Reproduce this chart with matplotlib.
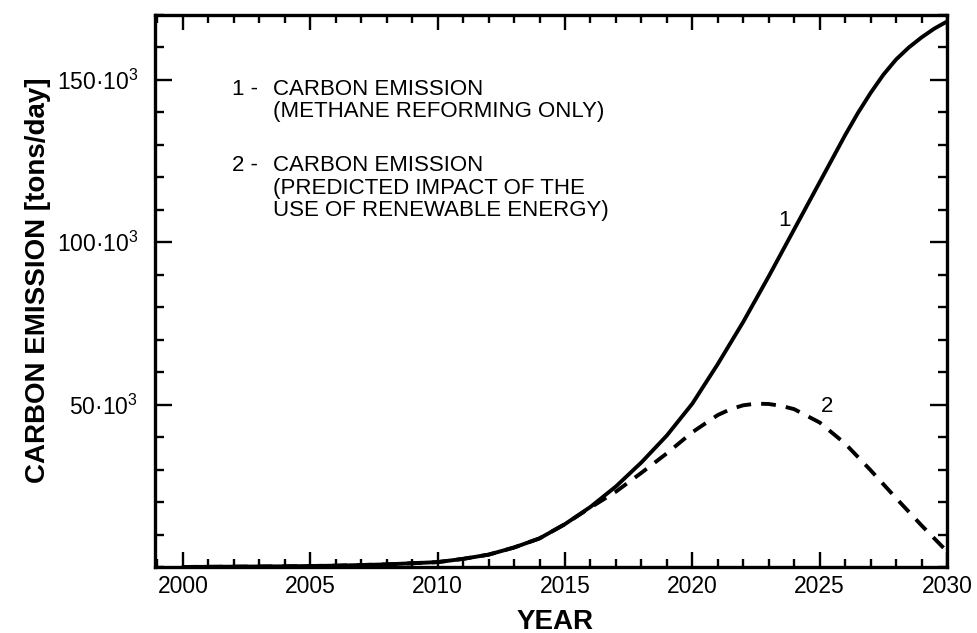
import matplotlib
matplotlib.use("Agg")
import matplotlib.pyplot as plt
from matplotlib.ticker import FixedLocator, FixedFormatter, MultipleLocator

plt.rcParams['font.family'] = ['Liberation Sans', 'DejaVu Sans']
plt.rcParams['mathtext.fontset'] = 'custom'
plt.rcParams['mathtext.rm'] = 'Liberation Sans'
plt.rcParams['mathtext.it'] = 'Liberation Sans:italic'
plt.rcParams['mathtext.bf'] = 'Liberation Sans:bold'

# Curve 1: methane reforming only (tons/day)
years_1 = [2000, 2002, 2004, 2006, 2008, 2010, 2011, 2012, 2013, 2014, 2015,
           2016, 2017, 2018, 2019, 2020, 2021, 2022, 2023, 2024, 2025, 2026,
           2026.5, 2027, 2027.5, 2028, 2028.5, 2029, 2029.5, 2030]
emission_1 = [0, 100, 200, 400, 800, 1500, 2500, 3800, 6000, 8800, 13200,
              18500, 24800, 32200, 40500, 50300, 62500, 75500, 89500, 104000,
              118500, 133000, 139800, 146000, 151600, 156300, 160000, 163100,
              165800, 168000]

# Curve 2: predicted impact of renewable energy use (tons/day)
years_2 = [2000, 2002, 2004, 2006, 2008, 2010, 2011, 2012, 2013, 2014, 2015,
           2016, 2017, 2018, 2019, 2020, 2021, 2021.5, 2022, 2022.5, 2023,
           2023.5, 2024, 2025, 2026, 2027, 2028, 2029, 2030]
emission_2 = [0, 100, 200, 400, 800, 1500, 2500, 3800, 6000, 8800, 13200,
              18300, 23200, 29000, 35000, 41500, 46800, 48600, 49800, 50300,
              50200, 49600, 48600, 44500, 38000, 29800, 21200, 12800, 4800]

xtick_years = [2000, 2005, 2010, 2015, 2020, 2025, 2030]
ytick_values = [50e3, 100e3, 150e3]
ytick_labels = [r'$\mathregular{50·10^{3}}$', r'$\mathregular{100·10^{3}}$',
                r'$\mathregular{150·10^{3}}$']

legend_lines = [
    ("1 -", "CARBON EMISSION"),
    ("", "(METHANE REFORMING ONLY)"),
    ("2 -", "CARBON EMISSION"),
    ("", "(PREDICTED IMPACT OF THE"),
    ("", "USE OF RENEWABLE ENERGY)"),
]

fig = plt.figure(figsize=(9.77, 6.33), dpi=100)
ax = fig.add_axes([0.1586, 0.1043, 0.8107, 0.872])

ax.plot(years_2, emission_2, color='black', lw=2.8, linestyle=(0, (3.8, 2.6)),
        dash_capstyle='butt', zorder=3)
ax.plot(years_1, emission_1, color='black', lw=2.8, solid_joinstyle='round',
        solid_capstyle='round', zorder=4)

ax.set_xlim(1998.9, 2030)
ax.set_ylim(0, 170e3)

ax.xaxis.set_major_locator(FixedLocator(xtick_years))
ax.xaxis.set_minor_locator(MultipleLocator(1))
ax.yaxis.set_major_locator(FixedLocator(ytick_values))
ax.yaxis.set_major_formatter(FixedFormatter(ytick_labels))
ax.yaxis.set_minor_locator(MultipleLocator(10e3))

for s in ax.spines.values():
    s.set_linewidth(2.4)

ax.tick_params(axis='both', which='both', direction='in', top=True, right=True,
               width=1.7, labelsize=16.5, colors='black')
ax.tick_params(axis='x', which='major', length=11, pad=6)
ax.tick_params(axis='x', which='minor', length=5.5)
ax.tick_params(axis='y', which='major', length=12.5, pad=12)
ax.tick_params(axis='y', which='minor', length=6.5)

ax.set_xlabel('YEAR', fontsize=20, fontweight='bold', va='baseline')
ax.xaxis.set_label_coords(0.505, -0.1115)
ax.set_ylabel('CARBON EMISSION [tons/day]', fontsize=20, fontweight='bold',
              va='baseline', ha='center', rotation_mode='anchor')
ax.yaxis.set_label_coords(-0.139, 0.52)

line_y = [0.8696, 0.8297, 0.7319, 0.6902, 0.6504]
for (num, txt), yy in zip(legend_lines, line_y):
    if num:
        ax.text(0.0972, yy, num, transform=ax.transAxes, fontsize=16,
                va='center_baseline', ha='left')
    ax.text(0.149, yy, txt, transform=ax.transAxes, fontsize=16,
            va='center_baseline', ha='left')

ax.text(2023.6, 106.6e3, '1', fontsize=16, ha='center', va='center')
ax.text(2025.3, 49.4e3, '2', fontsize=16, ha='center', va='center')

fig.savefig('out.png', dpi=100, facecolor='white')
